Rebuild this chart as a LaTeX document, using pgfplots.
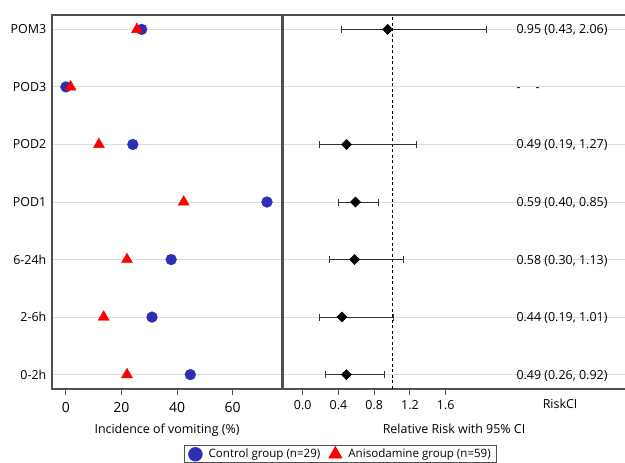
\documentclass[border=0pt]{standalone}
\usepackage{fontspec}
\setmainfont{Open Sans}
\usepackage{pgfplots}
\usepackage{pgfplotstable}
\pgfplotsset{compat=1.18}

\definecolor{ctrlblue}{RGB}{46,46,178}
\definecolor{framegray}{RGB}{80,80,80}
\definecolor{gridgray}{RGB}{222,222,222}

% incidence of vomiting (%), rows: 0=0-2h ... 6=POM3
\pgfplotstableread{
row ctrl aniso
0 44.8 22.0
1 31.0 13.6
2 37.9 22.0
3 72.4 42.4
4 24.1 11.9
5 0.0 1.7
6 27.3 25.6
}\incidence

% relative risk, plus / minus to the CI limits
\pgfplotstableread{
row rr ep em
0 0.49 0.43 0.23
1 0.44 0.57 0.25
2 0.58 0.55 0.28
3 0.59 0.26 0.19
4 0.49 0.78 0.30
6 0.95 1.11 0.52
}\riskdata

\newcommand{\fs}[1]{\fontsize{#1}{#1}\selectfont}

\pgfplotsset{
  panel/.style={
    scale only axis, height=374bp,
    ymin=-0.25, ymax=6.25, ytick={0,...,6},
    ymajorgrids, grid style={gridgray, line width=0.9bp},
    axis line style={framegray, line width=1.1bp, -},
    tick align=outside, xtick pos=bottom,
    ytick style={draw=none},
    major tick length=5.5bp,
    x tick style={framegray, line width=0.9bp},
    /pgf/number format/assume math mode=true,
    clip=false,
  },
}

\begin{document}
\begin{tikzpicture}
\begin{axis}[panel,
  at={(52bp,74bp)}, anchor=south west, width=230bp,
  xmin=-5, xmax=77.8, xtick={0,20,40,60},
  yticklabels={0-2h,2-6h,6-24h,POD1,POD2,POD3,POM3},
  yticklabel style={anchor=east, inner sep=0pt, font=\fs{12.5}},
  xticklabel style={anchor=base, inner sep=0pt, yshift=-18.2bp, font=\fs{14}},
  xlabel={Incidence of vomiting (\%)},
  xlabel style={at={(axis description cs:0.5,0)}, anchor=base, yshift=-44.3bp, font=\fs{12.5}},
  legend columns=2,
  legend style={at={(1.254,-0.1965)}, anchor=south, draw=framegray, line width=0.8bp,
    font=\fs{11.6}, inner xsep=4bp, inner ysep=1bp,
    nodes={inner sep=1.5bp},
    /tikz/every odd column/.append style={column sep=5bp},
    /tikz/every even column/.append style={column sep=7bp}},
]
\addplot[only marks, mark=*, mark size=5.4bp, color=ctrlblue,
  legend image post style={mark size=6.8bp}]
  table[x=ctrl, y=row] {\incidence};
\addlegendentry{Control group (n=29)}
\addplot[only marks, mark=triangle*, mark size=6.4bp, color=red,
  legend image post style={mark size=7.6bp}]
  table[x=aniso, y=row] {\incidence};
\addlegendentry{Anisodamine group (n=59)}
\end{axis}

\begin{axis}[panel,
  at={(283bp,74bp)}, anchor=south west, width=342bp,
  axis x line*=box, axis y line*=left,
  xmin=-0.22, xmax=3.606, xtick={0,0.4,0.8,1.2,1.6},
  xticklabel={\pgfmathprintnumber[fixed,fixed zerofill,precision=1]{\tick}},
  xticklabel style={anchor=base, inner sep=0pt, yshift=-14.5bp, font=\fs{12.5}},
  yticklabels={},
  xlabel={Relative Risk with 95\% CI},
  xlabel style={at={(axis description cs:0.5,0)}, anchor=base, yshift=-44.3bp, font=\fs{12.5}},
]
\addplot[black, line width=0.8bp, dash pattern=on 3bp off 2.5bp] coordinates {(1,-0.25) (1,6.25)};
\addplot[only marks, mark=square*, mark size=3.6bp, mark options={rotate=45, fill=black, draw=black},
  error bars/.cd, x dir=both, x explicit, error mark=|,
  error bar style={line width=0.9bp, black!80},
  error mark options={mark size=3.5bp, line width=0.9bp, black!80}]
  table[x=rr, y=row, x error plus=ep, x error minus=em] {\riskdata};
\begin{scope}[every node/.style={anchor=base west, inner sep=0pt, yshift=-4.5bp, font=\fs{12.5}}]
\node at (axis cs:2.39,6) {0.95 (0.43, 2.06)};
\node at (axis cs:2.39,5) {-\hspace{15bp}-};
\node at (axis cs:2.39,4) {0.49 (0.19, 1.27)};
\node at (axis cs:2.39,3) {0.59 (0.40, 0.85)};
\node at (axis cs:2.39,2) {0.58 (0.30, 1.13)};
\node at (axis cs:2.39,1) {0.44 (0.19, 1.01)};
\node at (axis cs:2.39,0) {0.49 (0.26, 0.92)};
\end{scope}
\node[anchor=base, inner sep=0pt, font=\fs{12.5}] at (axis cs:2.88,-0.25) [yshift=-19.3bp] {RiskCI};
\end{axis}
\pgfresetboundingbox
\path (0,0) rectangle (625bp,463bp);
\end{tikzpicture}
\end{document}
